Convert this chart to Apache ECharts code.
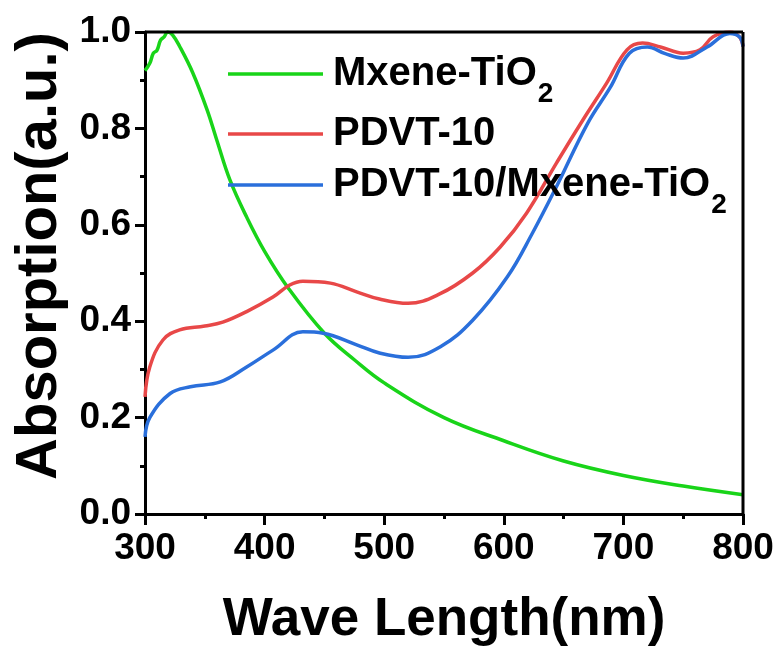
<!DOCTYPE html>
<html>
<head>
<meta charset="utf-8">
<script src="https://cdn.jsdelivr.net/npm/echarts@6/dist/echarts.min.js"></script>
<style>
  html, body { margin: 0; padding: 0; background: #fff; }
  #main { width: 782px; height: 652px; }
</style>
</head>
<body>
<div id="main"></div>
<script>
// wavelength (nm) / absorption pairs
var mxeneX = [300, 304, 307, 310, 313, 316, 319, 323, 329, 340, 352, 360, 371, 385, 400, 420, 450, 475, 500, 550, 600, 650, 700, 750, 800];
var mxeneY = [0.92, 0.935, 0.956, 0.962, 0.983, 0.99, 1.0, 0.994, 0.97, 0.915, 0.838, 0.776, 0.693, 0.616, 0.545, 0.468, 0.375, 0.32, 0.272, 0.2, 0.152, 0.11, 0.08, 0.058, 0.04];

var pdvtX = [300, 304, 315, 329, 350, 365, 385, 407, 421, 432, 455, 477, 496, 520, 546, 574, 597, 619, 644, 666, 686, 703, 716, 731, 750, 764, 775, 789, 797, 800];
var pdvtY = [0.243, 0.305, 0.361, 0.382, 0.39, 0.398, 0.42, 0.45, 0.475, 0.483, 0.479, 0.461, 0.446, 0.437, 0.456, 0.5, 0.554, 0.624, 0.728, 0.817, 0.894, 0.963, 0.977, 0.969, 0.956, 0.963, 0.99, 1.0, 0.99, 0.97];

var compX = [300, 304, 321, 338, 363, 385, 407, 432, 449, 477, 496, 520, 547, 574, 603, 624, 644, 670, 689, 705, 720, 735, 750, 770, 789, 797, 800];
var compY = [0.16, 0.2, 0.25, 0.264, 0.274, 0.305, 0.34, 0.378, 0.375, 0.351, 0.334, 0.325, 0.347, 0.402, 0.492, 0.583, 0.679, 0.81, 0.885, 0.956, 0.969, 0.955, 0.946, 0.969, 0.997, 0.99, 0.97];

var xTicks = [300, 400, 500, 600, 700, 800];
var yTicks = [0.0, 0.2, 0.4, 0.6, 0.8, 1.0];

var seriesNames = ['Mxene-TiO2', 'PDVT-10', 'PDVT-10/Mxene-TiO2'];
var seriesColors = ['#19d419', '#e84848', '#2a6fdb'];

function pairs(xs, ys) {
  var out = [];
  for (var i = 0; i < xs.length; i++) {
    out.push([xs[i], ys[i]]);
  }
  return out;
}

var fontFam = '"Liberation Sans", Arial, sans-serif';

var legendRich = {
  a: { fontSize: 40, lineHeight: 66, fontWeight: 'bold', color: '#000', fontFamily: fontFam },
  s: { fontSize: 28, lineHeight: 26, fontWeight: 'bold', color: '#000', fontFamily: fontFam, padding: [40, 0, 0, 1] }
};

function legendFmt(name) {
  if (name === 'Mxene-TiO2') return '{a|Mxene-TiO}{s|2}';
  if (name === 'PDVT-10/Mxene-TiO2') return '{a|PDVT-10/Mxene-TiO}{s|2}';
  return '{a|' + name + '}';
}

function makeLegend(name, top) {
  return {
    data: [name],
    left: 223,
    top: top,
    itemWidth: 95,
    itemHeight: 14,
    itemGap: 0,
    icon: 'path://M0,6 L95,6 L95,9.5 L0,9.5 Z',
    formatter: legendFmt,
    textStyle: { rich: legendRich, padding: [0, 0, 0, 5] }
  };
}

var myChart = echarts.init(document.getElementById('main'));

var option = {
  animation: false,
  backgroundColor: '#fff',
  grid: { left: 145, right: 39, top: 32, bottom: 138 },
  legend: [
    makeLegend(seriesNames[0], 35),
    makeLegend(seriesNames[1], 109),
    makeLegend(seriesNames[2], 146)
  ],
  xAxis: {
    type: 'value',
    min: 300,
    max: 800,
    interval: 100,
    name: 'Wave Length(nm)',
    nameLocation: 'middle',
    nameGap: 80,
    nameTextStyle: { fontSize: 53, fontWeight: 'bold', color: '#000', fontFamily: fontFam },
    axisLine: { show: true, onZero: false, lineStyle: { color: '#000', width: 3 } },
    axisTick: { show: true, inside: false, length: 11, lineStyle: { color: '#000', width: 3 } },
    minorTick: { show: true, splitNumber: 2, length: 5, lineStyle: { color: '#000', width: 3 } },
    axisLabel: {
      fontSize: 37, fontWeight: 'bold', color: '#000', margin: 16, fontFamily: fontFam,
      formatter: function (v) { return xTicks.indexOf(v) >= 0 ? String(v) : ''; }
    },
    splitLine: { show: false }
  },
  yAxis: {
    type: 'value',
    min: 0,
    max: 1,
    interval: 0.2,
    name: 'Absorption(a.u.)',
    nameLocation: 'middle',
    nameGap: 71,
    nameTextStyle: { fontSize: 58, fontWeight: 'bold', color: '#000', fontFamily: fontFam, padding: [0, 0, 0, 34] },
    axisLine: { show: true, onZero: false, lineStyle: { color: '#000', width: 3 } },
    axisTick: { show: true, inside: false, length: 10, lineStyle: { color: '#000', width: 3 } },
    minorTick: { show: true, splitNumber: 2, length: 5, lineStyle: { color: '#000', width: 3 } },
    axisLabel: {
      fontSize: 37, fontWeight: 'bold', color: '#000', margin: 14, fontFamily: fontFam,
      formatter: function (v) { return v.toFixed(1); }
    },
    splitLine: { show: false }
  },
  series: [
    {
      name: seriesNames[0], type: 'line', smooth: 0.4, showSymbol: false,
      data: pairs(mxeneX, mxeneY),
      lineStyle: { color: seriesColors[0], width: 3.5 }, itemStyle: { color: seriesColors[0] }
    },
    {
      name: seriesNames[1], type: 'line', smooth: 0.4, showSymbol: false,
      data: pairs(pdvtX, pdvtY),
      lineStyle: { color: seriesColors[1], width: 3.5 }, itemStyle: { color: seriesColors[1] }
    },
    {
      name: seriesNames[2], type: 'line', smooth: 0.4, showSymbol: false,
      data: pairs(compX, compY),
      lineStyle: { color: seriesColors[2], width: 3.5 }, itemStyle: { color: seriesColors[2] }
    }
  ],
  graphic: [
    // top and right frame lines
    { type: 'line', shape: { x1: 145, y1: 32, x2: 743, y2: 32 }, style: { stroke: '#000', lineWidth: 3 }, z: 10 },
    { type: 'line', shape: { x1: 743, y1: 32, x2: 743, y2: 514 }, style: { stroke: '#000', lineWidth: 3 }, z: 10 }
  ]
};

myChart.setOption(option);
</script>
</body>
</html>
